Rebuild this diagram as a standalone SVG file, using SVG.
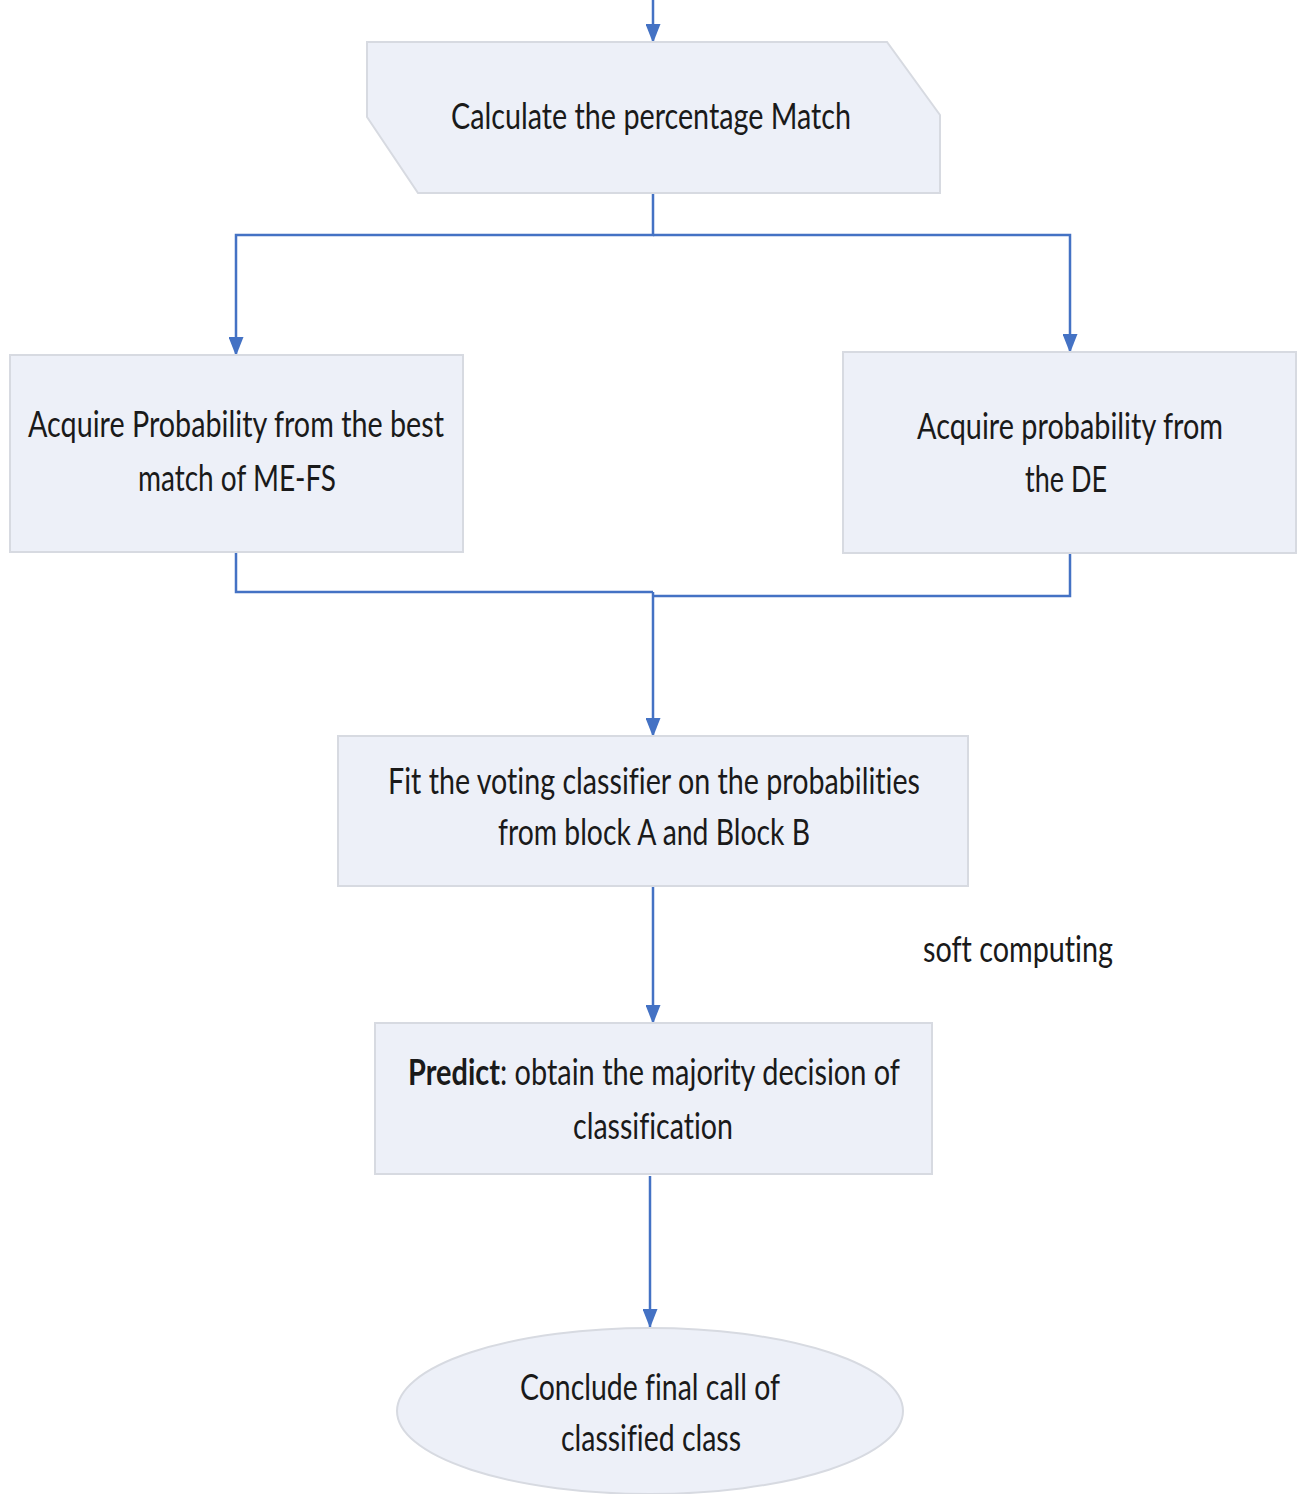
<svg xmlns="http://www.w3.org/2000/svg" width="1304" height="1494" viewBox="0 0 1304 1494">
  <style>
    .shape { fill: #EDF0F8; stroke: #D7DAE1; stroke-width: 2; }
    .wire { fill: none; stroke: #4472C4; stroke-width: 2.5; }
    .label { font-family: Lato, "Open Sans", "Liberation Sans", sans-serif; font-size: 37px; fill: #1a1a1a; font-variant-ligatures: none; }
    .bold { font-weight: bold; }
  </style>
  <defs>
    <marker id="tip" markerUnits="userSpaceOnUse" markerWidth="19" markerHeight="15" refX="18" refY="7.5" orient="auto" viewBox="0 0 19 15">
      <path d="M0,0 L19,7.5 L0,15 Z" fill="#4472C4"/>
    </marker>
  </defs>

  <rect width="1304" height="1494" fill="#FFFFFF"/>

  <!-- connectors -->
  <g id="connectors">
    <path class="wire" d="M653,0 V42" marker-end="url(#tip)"/>
    <path class="wire" d="M653,193 V235 H236 V355" marker-end="url(#tip)"/>
    <path class="wire" d="M653,235 H1070 V352" marker-end="url(#tip)"/>
    <path class="wire" d="M236,552 V592 H653"/>
    <path class="wire" d="M1070,553 V596 H653"/>
    <path class="wire" d="M653,592 V736" marker-end="url(#tip)"/>
    <path class="wire" d="M653,886 V1023" marker-end="url(#tip)"/>
    <path class="wire" d="M650,1176 V1327" marker-end="url(#tip)"/>
  </g>

  <!-- match percentage step -->
  <g id="calc-match">
    <polygon class="shape" points="367,42 887,42 940,115 940,193 418,193 367,117"/>
    <text class="label" x="451" y="129" textLength="400" lengthAdjust="spacingAndGlyphs">Calculate the percentage Match</text>
  </g>

  <!-- block A -->
  <g id="block-a">
    <rect class="shape" x="10" y="355" width="453" height="197"/>
    <text class="label" x="28" y="437" textLength="416" lengthAdjust="spacingAndGlyphs">Acquire Probability from the best</text>
    <text class="label" x="138" y="491" textLength="198" lengthAdjust="spacingAndGlyphs">match of ME-FS</text>
  </g>

  <!-- block B -->
  <g id="block-b">
    <rect class="shape" x="843" y="352" width="453" height="201"/>
    <text class="label" x="917" y="439" textLength="306" lengthAdjust="spacingAndGlyphs">Acquire probability from</text>
    <text class="label" x="1025" y="492" textLength="82" lengthAdjust="spacingAndGlyphs">the DE</text>
  </g>

  <!-- voting classifier -->
  <g id="fit-voting">
    <rect class="shape" x="338" y="736" width="630" height="150"/>
    <text class="label" x="388" y="794" textLength="532" lengthAdjust="spacingAndGlyphs">Fit the voting classifier on the probabilities</text>
    <text class="label" x="498" y="845" textLength="312" lengthAdjust="spacingAndGlyphs">from block A and Block B</text>
  </g>

  <!-- side note -->
  <g id="soft-computing">
    <text class="label" x="923" y="962" textLength="190" lengthAdjust="spacingAndGlyphs">soft computing</text>
  </g>

  <!-- prediction -->
  <g id="predict">
    <rect class="shape" x="375" y="1023" width="557" height="151"/>
    <text class="label" x="408" y="1085" textLength="492" lengthAdjust="spacingAndGlyphs"><tspan class="bold">Predict</tspan>: obtain the majority decision of</text>
    <text class="label" x="573" y="1139" textLength="160" lengthAdjust="spacingAndGlyphs">classification</text>
  </g>

  <!-- final decision -->
  <g id="conclude">
    <ellipse class="shape" cx="650" cy="1411" rx="253" ry="83"/>
    <text class="label" x="520" y="1400" textLength="260" lengthAdjust="spacingAndGlyphs">Conclude final call of</text>
    <text class="label" x="561" y="1451" textLength="180" lengthAdjust="spacingAndGlyphs">classified class</text>
  </g>
</svg>
